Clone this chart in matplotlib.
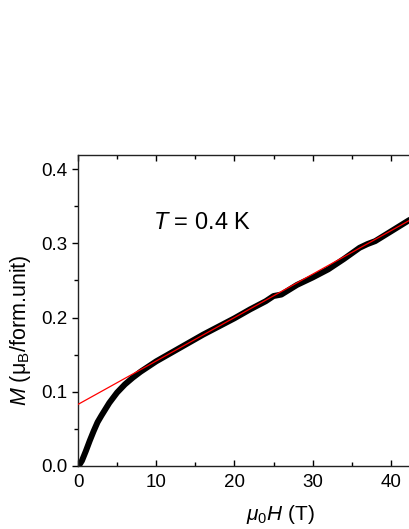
import numpy as np
import matplotlib
matplotlib.use('Agg')
import matplotlib.pyplot as plt
from matplotlib.ticker import MultipleLocator

plt.rcParams['font.family'] = ['Liberation Sans', 'DejaVu Sans']
plt.rcParams['mathtext.fontset'] = 'custom'
plt.rcParams['mathtext.rm'] = 'Liberation Sans'
plt.rcParams['mathtext.it'] = 'Liberation Sans:italic'

# magnetization curve at T = 0.4 K
field = [0, 0.2, 0.5, 1.0, 1.5, 2.0, 2.5, 3.0, 4.0, 5.0, 6.0, 7.0, 8.0, 9.0,
         10, 12, 14, 16, 18, 20, 22, 24, 25, 26, 28, 30, 32, 34, 36, 37, 38,
         40, 42.3, 44]
moment = [0, 0.002, 0.007, 0.020, 0.034, 0.047, 0.059, 0.068, 0.085, 0.099,
          0.110, 0.119, 0.127, 0.134, 0.141, 0.153, 0.165, 0.177, 0.188,
          0.199, 0.211, 0.222, 0.229, 0.231, 0.244, 0.254, 0.265, 0.279,
          0.294, 0.299, 0.303, 0.316, 0.331, 0.340]

# linear fit of the high-field part
fit_intercept = 0.083
fit_slope = 0.00585

fig = plt.figure(figsize=(4.09, 5.29), dpi=100)
ax = fig.add_axes([78 / 409, 63 / 529, 352 / 409, 311 / 529])

h_fit = np.array([0, 45])
ax.plot(field, moment, color='black', lw=4.3, solid_capstyle='round', zorder=2)
ax.plot(h_fit, fit_intercept + fit_slope * h_fit, color='red', lw=0.9, zorder=3)

ax.set_xlim(0, 45)
ax.set_ylim(0, 0.419)
ax.xaxis.set_major_locator(MultipleLocator(10))
ax.xaxis.set_minor_locator(MultipleLocator(5))
ax.yaxis.set_major_locator(MultipleLocator(0.1))
ax.yaxis.set_minor_locator(MultipleLocator(0.05))
ax.yaxis.set_major_formatter(plt.FuncFormatter(lambda v, p: '%.1f' % v))

for s in ax.spines.values():
    s.set_linewidth(1.0)
    s.set_color('#222222')

ax.tick_params(axis='x', which='both', direction='in', top=True, labelsize=13.5, pad=6)
ax.tick_params(axis='x', which='major', length=4, width=1)
ax.tick_params(axis='x', which='minor', length=3, width=1)
ax.tick_params(axis='y', which='both', direction='out', labelsize=13.5, pad=3)
ax.tick_params(axis='y', which='major', length=4.5, width=1)
ax.tick_params(axis='y', which='minor', length=3, width=1)

ax.set_xlabel(r'$\mathit{\mu_0H}$ (T)', fontsize=15)
ax.set_ylabel(r'$M$ ($\mathrm{\mu_B}$/form.unit)', fontsize=15.5)
ax.xaxis.set_label_coords((280 - 78) / 352, -37 / 311)
ax.yaxis.set_label_coords((33 - 78) / 352, (466 - 330) / 311)

ax.text(9.6, 0.319, r'$T$ = 0.4 K', fontsize=17)

fig.savefig('out.png', dpi=100)
